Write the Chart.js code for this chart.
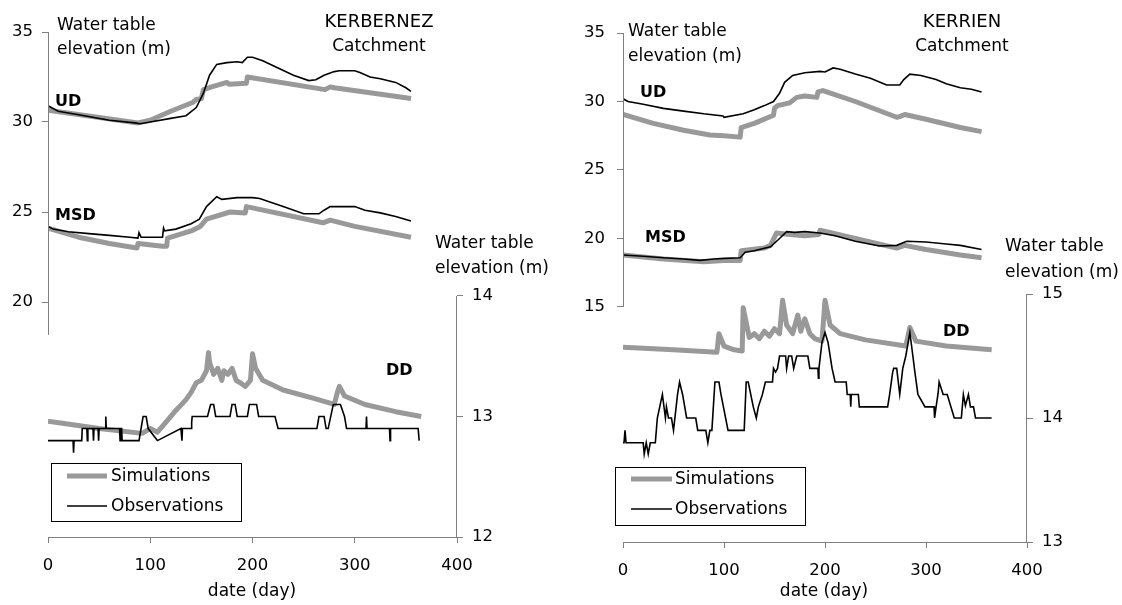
<!DOCTYPE html>
<html><head><meta charset="utf-8">
<script src="https://cdn.jsdelivr.net/npm/chart.js@4.4.0/dist/chart.umd.min.js"></script>
<style>
html,body{margin:0;padding:0;background:#fff;}
#wrap{position:relative;width:1122px;height:605px;overflow:hidden;background:#fff;}
canvas{position:absolute;top:0;}
</style></head><body>
<div id="wrap">
<canvas id="cLeft" width="561" height="605" style="left:0px;width:561px;height:605px"></canvas>
<canvas id="cRight" width="561" height="605" style="left:561px;width:561px;height:605px"></canvas>
</div>
<script>
// ---------------- DATA ----------------
const xTicks = [0, 100, 200, 300, 400];
const leftTicksKer = [20, 25, 30, 35];
const rightTicksKer = [12, 13, 14];
const leftTicksKr = [15, 20, 25, 30, 35];
const rightTicksKr = [13, 14, 15];

// KERBERNEZ
const kerUdObsDay = [0, 10, 30, 60, 85, 90, 100, 120, 135, 145, 152, 158, 165, 175, 185, 190, 195, 200, 210, 225, 240, 255, 262, 270, 280, 285, 300, 305, 315, 325, 340, 350, 355];
const kerUdObs    = [30.9, 30.6, 30.4, 30.1, 29.95, 29.9, 30.0, 30.2, 30.35, 30.8, 31.6, 32.6, 33.2, 33.3, 33.35, 33.3, 33.6, 33.6, 33.4, 33.0, 32.6, 32.3, 32.35, 32.6, 32.8, 32.85, 32.85, 32.75, 32.5, 32.4, 32.2, 31.9, 31.7];
const kerUdSimDay = [0, 88, 100, 120, 142, 145, 150, 152, 160, 175, 177, 194, 195, 271, 276, 280, 355];
const kerUdSim    = [30.65, 29.95, 30.1, 30.6, 31.1, 31.25, 31.3, 31.8, 31.95, 32.2, 32.1, 32.15, 32.5, 31.8, 31.95, 31.9, 31.3];
const kerMsdObsDay = [0, 5, 20, 40, 60, 80, 88, 89, 91, 95, 112, 113, 114, 125, 140, 148, 155, 165, 170, 185, 200, 207, 230, 250, 265, 270, 276, 300, 310, 325, 340, 355];
const kerMsdObs    = [24.2, 24.05, 23.9, 23.8, 23.7, 23.6, 23.55, 23.85, 23.6, 23.6, 23.6, 24.1, 23.95, 24.05, 24.35, 24.6, 25.3, 25.85, 25.7, 25.8, 25.8, 25.75, 25.3, 24.9, 24.9, 25.1, 25.3, 25.3, 25.1, 24.95, 24.75, 24.5];
const kerMsdSimDay = [0, 30, 60, 87, 88, 112, 116, 117, 140, 149, 155, 178, 193, 194, 269, 276, 300, 355];
const kerMsdSim    = [24.1, 23.6, 23.25, 23.0, 23.25, 23.1, 23.1, 23.55, 23.95, 24.2, 24.6, 25.0, 24.95, 25.3, 24.4, 24.55, 24.2, 23.6];
const kerDdSimDay = [0, 50, 92, 100, 107, 115, 125, 135, 140, 145, 150, 155, 157, 158, 162, 166, 170, 172, 176, 180, 184, 188, 193, 198, 200, 203, 210, 230, 260, 280, 283, 285, 290, 310, 340, 365];
const kerDdSim    = [12.96, 12.9, 12.86, 12.9, 12.87, 12.95, 13.05, 13.14, 13.2, 13.28, 13.3, 13.38, 13.53, 13.45, 13.35, 13.4, 13.3, 13.38, 13.35, 13.4, 13.3, 13.28, 13.25, 13.3, 13.52, 13.4, 13.3, 13.22, 13.15, 13.1, 13.2, 13.25, 13.17, 13.1, 13.04, 13.0];
const kerDdObsDay = [0, 24.5, 25, 25.5, 33, 33.5, 38, 38.5, 39, 44, 44.5, 45, 49, 49.5, 50, 56, 56.5, 57, 70, 70.5, 71, 72, 72.5, 89, 93, 96, 98, 107, 130, 131, 131.5, 140, 140.5, 141, 156, 159, 162, 164, 178, 180, 183, 185, 195, 197, 204, 206, 222, 225, 263, 265, 270, 272, 274, 279, 286, 290, 292, 311, 311.5, 312, 334, 334.5, 335, 362, 363];
const kerDdObs    = [12.8, 12.8, 12.7, 12.8, 12.8, 12.9, 12.9, 12.8, 12.9, 12.9, 12.8, 12.9, 12.9, 12.8, 12.9, 12.9, 13.0, 12.9, 12.9, 12.8, 12.9, 12.9, 12.8, 12.8, 13.0, 13.0, 12.9, 12.8, 12.9, 12.8, 12.9, 12.9, 12.95, 13.0, 13.0, 13.1, 13.1, 13.0, 13.0, 13.1, 13.1, 13.0, 13.0, 13.1, 13.1, 13.0, 13.0, 12.9, 12.9, 13.0, 13.0, 12.9, 12.9, 13.1, 13.1, 13.0, 12.9, 12.9, 13.0, 12.9, 12.9, 12.8, 12.9, 12.9, 12.8];

// KERRIEN
const krUdObsDay = [0, 5, 20, 40, 60, 80, 99, 100, 119, 130, 140, 149, 155, 160, 168, 180, 195, 200, 208, 215, 230, 245, 261, 274, 278, 284, 295, 310, 320, 334, 345, 355];
const krUdObs    = [30.2, 30.0, 29.8, 29.5, 29.3, 29.1, 28.95, 28.85, 29.1, 29.4, 29.7, 30.0, 30.6, 31.4, 31.9, 32.1, 32.2, 32.15, 32.45, 32.35, 32.0, 31.7, 31.2, 31.2, 31.6, 32.0, 31.9, 31.6, 31.3, 31.0, 30.9, 30.7];
const krUdSimDay = [0, 30, 60, 86, 100, 116, 117, 130, 149, 150, 153, 165, 172, 180, 192, 193, 198, 230, 271, 274, 279, 300, 334, 355];
const krUdSim    = [29.05, 28.4, 27.9, 27.55, 27.5, 27.4, 28.1, 28.4, 29.0, 29.5, 29.7, 29.9, 30.3, 30.4, 30.3, 30.7, 30.8, 30.0, 28.85, 28.9, 29.05, 28.7, 28.1, 27.8];
const krMsdObsDay = [0, 20, 40, 60, 76, 90, 100, 116, 121, 130, 146, 155, 162, 170, 180, 195, 210, 230, 254, 271, 281, 300, 320, 334, 355];
const krMsdObs    = [18.8, 18.7, 18.6, 18.5, 18.4, 18.5, 18.55, 18.6, 19.0, 19.1, 19.4, 20.0, 20.5, 20.45, 20.5, 20.4, 20.2, 19.8, 19.45, 19.5, 19.8, 19.75, 19.6, 19.5, 19.2];
const krMsdSimDay = [0, 40, 80, 100, 116, 117, 140, 146, 152, 165, 180, 194, 195, 230, 271, 279, 300, 334, 355];
const krMsdSim    = [18.8, 18.5, 18.3, 18.4, 18.4, 19.1, 19.3, 19.5, 20.4, 20.3, 20.2, 20.3, 20.6, 20.0, 19.3, 19.5, 19.2, 18.8, 18.6];
const krDdSimDay = [0, 50, 93, 95, 100, 110, 118, 119, 125, 130, 135, 140, 145, 150, 155, 158, 162, 168, 173, 176, 180, 185, 190, 197, 200, 205, 215, 240, 280, 284, 290, 320, 365];
const krDdSim    = [14.57, 14.55, 14.53, 14.68, 14.58, 14.55, 14.54, 14.89, 14.65, 14.68, 14.64, 14.7, 14.66, 14.72, 14.68, 14.95, 14.75, 14.68, 14.83, 14.7, 14.8, 14.68, 14.64, 14.62, 14.95, 14.75, 14.68, 14.63, 14.58, 14.73, 14.62, 14.58, 14.55];
const krDdObsDay = [0, 1, 2, 3, 20, 21, 23, 25, 27, 32, 33, 34, 39, 42, 43, 45, 48, 50, 54, 56, 59, 63, 72, 74, 82, 84, 86, 88, 91, 95, 97, 104, 120, 122, 124, 129, 132, 134, 138, 141, 148, 149, 151, 153, 155, 161, 162, 164, 167, 169, 172, 183, 185, 193, 193.5, 194, 197, 200, 203, 207, 210, 221, 222, 225, 225.5, 226, 233, 234, 262, 264, 267, 268, 271, 274, 277, 280, 284, 287, 289, 292, 299, 308, 308.5, 310, 312, 313, 317, 321, 328, 335, 337, 339, 342, 344, 347, 349, 365];
const krDdObs    = [13.8, 13.8, 13.9, 13.8, 13.8, 13.71, 13.8, 13.71, 13.8, 13.8, 13.9, 14.0, 14.19, 14.0, 14.09, 14.0, 14.0, 13.9, 14.19, 14.29, 14.19, 14.0, 14.0, 13.9, 13.9, 13.8, 13.9, 13.9, 14.29, 14.29, 14.19, 13.9, 13.9, 14.29, 14.29, 14.09, 14.0, 14.09, 14.19, 14.29, 14.29, 14.4, 14.37, 14.4, 14.5, 14.5, 14.4, 14.5, 14.5, 14.4, 14.5, 14.5, 14.4, 14.4, 14.32, 14.4, 14.61, 14.69, 14.61, 14.4, 14.29, 14.29, 14.19, 14.19, 14.09, 14.19, 14.19, 14.09, 14.09, 14.19, 14.37, 14.4, 14.4, 14.19, 14.4, 14.5, 14.69, 14.5, 14.37, 14.19, 14.09, 14.09, 14.0, 14.09, 14.2, 14.29, 14.19, 14.19, 14.0, 14.0, 14.19, 14.1, 14.19, 14.09, 14.09, 14.0, 14.0];

// ---------------- STYLE ----------------
const FONT = "'DejaVu Sans', 'Liberation Sans', Arial, sans-serif";
const AXIS_COLOR = '#808080';
const SIM_COLOR = '#999999';
const OBS_COLOR = '#000000';

function pts(days, vals) { return days.map((d, i) => ({ x: d, y: vals[i] })); }

function obsSet(label, days, vals, axis) {
  return { label, data: pts(days, vals), yAxisID: axis, borderColor: OBS_COLOR, borderWidth: 1.6,
    pointRadius: 0, tension: 0, fill: false, borderJoinStyle: 'miter', kind: 'obs' };
}
function simSet(label, days, vals, axis) {
  return { label, data: pts(days, vals), yAxisID: axis, borderColor: SIM_COLOR, borderWidth: 5,
    pointRadius: 0, tension: 0, fill: false, borderJoinStyle: 'round', borderCapStyle: 'butt', kind: 'sim' };
}

const decoPlugin = {
  id: 'deco',
  afterDatasetsDraw(chart, args, o) {
    const ctx = chart.ctx;
    const ca = chart.chartArea;
    const y = chart.scales.y, y2 = chart.scales.y2;
    ctx.save();
    ctx.strokeStyle = AXIS_COLOR; ctx.lineWidth = 1;
    ctx.beginPath();
    const lx = Math.round(ca.left) + 0.5;
    ctx.moveTo(lx, y.getPixelForValue(o.leftLine[0]));
    ctx.lineTo(lx, y.getPixelForValue(o.leftLine[1]));
    const rx = Math.round(ca.right) - 0.5;
    ctx.moveTo(rx, y2.getPixelForValue(o.rightLine[0]));
    ctx.lineTo(rx, y2.getPixelForValue(o.rightLine[1]) + 0.5);
    ctx.stroke();
    ctx.fillStyle = '#000';
    ctx.textBaseline = 'alphabetic';
    for (const t of o.texts) {
      ctx.font = (t.bold ? 'bold ' : '') + t.size + 'px ' + FONT;
      ctx.textAlign = t.align || 'left';
      ctx.fillText(t.text, t.x, t.y);
    }
    const L = o.legend;
    ctx.strokeStyle = '#000'; ctx.lineWidth = 1;
    ctx.strokeRect(L.x + 0.5, L.y + 0.5, L.w, L.h);
    ctx.font = '17px ' + FONT;
    ctx.textAlign = 'left'; ctx.textBaseline = 'middle';
    const sim = chart.data.datasets.find(d => d.kind === 'sim');
    const obs = chart.data.datasets.find(d => d.kind === 'obs');
    const items = [[sim, 'Simulations', L.row1], [obs, 'Observations', L.row2]];
    for (const [ds, name, ry] of items) {
      ctx.strokeStyle = ds.borderColor; ctx.lineWidth = ds.borderWidth;
      ctx.beginPath(); ctx.moveTo(L.lineX0, ry); ctx.lineTo(L.lineX1, ry); ctx.stroke();
      ctx.fillStyle = '#000';
      ctx.fillText(name, L.textX, ry + 1);
    }
    ctx.restore();
  }
};

function makePanel(id, p) {
  const tickFont = { family: FONT, size: 16.5 };
  return new Chart(document.getElementById(id), {
    type: 'line',
    data: { datasets: p.datasets },
    options: {
      responsive: false, animation: false, devicePixelRatio: 1,
      parsing: false, normalized: true,
      layout: { padding: { top: p.top, left: 0, right: 0, bottom: 0 } },
      plugins: { legend: { display: false }, tooltip: { enabled: false }, deco: p.deco },
      scales: {
        x: {
          type: 'linear', min: 0, max: 400, position: 'bottom',
          afterBuildTicks: s => { s.ticks = xTicks.map(v => ({ value: v })); },
          ticks: { color: '#000', font: tickFont, padding: 13, maxRotation: 0, autoSkip: false },
          grid: { drawOnChartArea: false, drawTicks: true, tickLength: 6, color: AXIS_COLOR, tickColor: AXIS_COLOR },
          border: { display: true, color: AXIS_COLOR, width: 1 },
          afterFit: s => { s.height = p.xH; }
        },
        y: {
          type: 'linear', position: 'left', min: p.yMin, max: p.yMax,
          afterBuildTicks: s => { s.ticks = p.yTicks.map(v => ({ value: v })); },
          ticks: { color: '#000', font: tickFont, padding: p.yPad, autoSkip: false },
          grid: { drawOnChartArea: false, drawTicks: true, tickLength: 6, color: AXIS_COLOR, tickColor: AXIS_COLOR },
          border: { display: false },
          afterFit: s => { s.width = p.yW; }
        },
        y2: {
          type: 'linear', position: 'right', min: p.y2Min, max: p.y2Max,
          afterBuildTicks: s => { s.ticks = p.y2Ticks.map(v => ({ value: v })); },
          ticks: { color: '#000', font: tickFont, padding: p.y2Pad, autoSkip: false },
          grid: { drawOnChartArea: false, drawTicks: true, tickLength: 6, color: AXIS_COLOR, tickColor: AXIS_COLOR },
          border: { display: false },
          afterFit: s => { s.width = p.y2W; }
        }
      }
    },
    plugins: [decoPlugin]
  });
}

// Left panel: KERBERNEZ
makePanel('cLeft', {
  top: 32, xH: 68, yW: 48, y2W: 104,
  yMin: 35 - 505 / 18, yMax: 35, yTicks: leftTicksKer, yPad: 9,
  y2Min: 12, y2Max: 12 + 505 / 120.5, y2Ticks: rightTicksKer, y2Pad: 9,
  datasets: [
    obsSet('UD obs', kerUdObsDay, kerUdObs, 'y'),
    obsSet('MSD obs', kerMsdObsDay, kerMsdObs, 'y'),
    obsSet('DD obs', kerDdObsDay, kerDdObs, 'y2'),
    simSet('UD sim', kerUdSimDay, kerUdSim, 'y'),
    simSet('MSD sim', kerMsdSimDay, kerMsdSim, 'y'),
    simSet('DD sim', kerDdSimDay, kerDdSim, 'y2')
  ],
  deco: {
    leftLine: [35, 18.17], rightLine: [14, 12],
    texts: [
      { text: 'Water table', x: 57, y: 30, size: 17 },
      { text: 'elevation (m)', x: 57, y: 54, size: 17 },
      { text: 'KERBERNEZ', x: 379, y: 27, size: 18, align: 'center' },
      { text: 'Catchment', x: 379, y: 51, size: 17, align: 'center' },
      { text: 'UD', x: 55, y: 106, size: 16, bold: true },
      { text: 'MSD', x: 55, y: 220, size: 16, bold: true },
      { text: 'DD', x: 386, y: 375, size: 16, bold: true },
      { text: 'Water table', x: 435, y: 248, size: 17 },
      { text: 'elevation (m)', x: 435, y: 273, size: 17 },
      { text: 'date (day)', x: 252, y: 596, size: 17, align: 'center' }
    ],
    legend: { x: 51, y: 463, w: 190, h: 58, row1: 476, row2: 506, lineX0: 67, lineX1: 107, textX: 111 }
  }
});

// Right panel: KERRIEN
makePanel('cRight', {
  top: 33, xH: 63, yW: 62, y2W: 95,
  yMin: 35 - 509 / 13.7, yMax: 35, yTicks: leftTicksKr, yPad: 12,
  y2Min: 13, y2Max: 13 + 509 / 124, y2Ticks: rightTicksKr, y2Pad: 9,
  datasets: [
    obsSet('UD obs', krUdObsDay, krUdObs, 'y'),
    obsSet('MSD obs', krMsdObsDay, krMsdObs, 'y'),
    obsSet('DD obs', krDdObsDay, krDdObs, 'y2'),
    simSet('UD sim', krUdSimDay, krUdSim, 'y'),
    simSet('MSD sim', krMsdSimDay, krMsdSim, 'y'),
    simSet('DD sim', krDdSimDay, krDdSim, 'y2')
  ],
  deco: {
    leftLine: [35, 15], rightLine: [15, 13],
    texts: [
      { text: 'Water table', x: 67, y: 36, size: 17 },
      { text: 'elevation (m)', x: 67, y: 61, size: 17 },
      { text: 'KERRIEN', x: 401, y: 27, size: 18, align: 'center' },
      { text: 'Catchment', x: 401, y: 51, size: 17, align: 'center' },
      { text: 'UD', x: 79, y: 97, size: 16, bold: true },
      { text: 'MSD', x: 84, y: 242, size: 16, bold: true },
      { text: 'DD', x: 382, y: 336, size: 16, bold: true },
      { text: 'Water table', x: 444, y: 251, size: 17 },
      { text: 'elevation (m)', x: 444, y: 277, size: 17 },
      { text: 'date (day)', x: 263, y: 596, size: 17, align: 'center' }
    ],
    legend: { x: 54, y: 467, w: 190, h: 58, row1: 479, row2: 509, lineX0: 70, lineX1: 111, textX: 114 }
  }
});
</script>
</body></html>
